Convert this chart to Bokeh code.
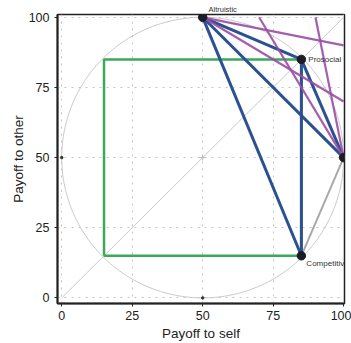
import numpy as np
from bokeh.plotting import figure
from bokeh.models import Range1d, Label, FixedTicker, Title
from bokeh.embed import file_html
from bokeh.resources import INLINE

# Reference points of the SVO ring (payoff to self, payoff to other)
orientation_names = ["Altruistic", "Prosocial", "Individualistic", "Competitive"]
orientation_self = [50, 85, 100, 85]
orientation_other = [100, 85, 50, 15]

# Primary slider items: start/end allocations
primary_self_start = [85, 50, 50, 100, 100]
primary_other_start = [85, 100, 100, 50, 50]
primary_self_end = [85, 85, 85, 50, 85]
primary_other_end = [15, 85, 15, 100, 85]

# Primary item drawn in grey (competitive -> individualistic)
grey_self = [85, 100]
grey_other = [15, 50]

# Secondary slider items
secondary_self_start = [100, 50, 50, 90]
secondary_other_start = [50, 100, 100, 100]
secondary_self_end = [70, 100, 100, 100]
secondary_other_end = [100, 70, 90, 50]

# Square spanned by the prosocial/competitive corners
square_self = [15, 85, 85, 15, 15]
square_other = [15, 15, 85, 85, 15]

ticks = [0, 25, 50, 75, 100]

FONT = "Liberation Sans"
BLUE = "#2c5190"
PURPLE = "#9a4ca5"
GREEN = "#3aa95a"
INK = "#222222"

p = figure(width=351, height=343, output_backend="svg", toolbar_location=None,
           x_range=Range1d(-1.5, 100.3), y_range=Range1d(-2, 101),
           min_border_left=57, min_border_right=7, min_border_top=14,
           min_border_bottom=38)

p.outline_line_color = INK
p.outline_line_width = 1.5
p.background_fill_color = "white"

for ax in (p.xaxis, p.yaxis):
    ax.ticker = FixedTicker(ticks=ticks)
    ax.axis_line_color = INK
    ax.axis_line_width = 2
    ax.major_tick_in = 0
    ax.major_tick_out = 3
    ax.minor_tick_line_color = None
    ax.major_tick_line_color = INK
    ax.major_label_text_font = FONT
    ax.major_label_text_font_size = "12.5px"
    ax.major_label_text_color = INK
    ax.axis_label_text_font = FONT
    ax.axis_label_text_font_size = "13.5px"
    ax.axis_label_text_font_style = "normal"
    ax.axis_label_text_color = INK

p.xaxis.axis_label = "Payoff to self"
p.yaxis.axis_label = "Payoff to other"
p.xaxis.axis_label_standoff = 3
p.yaxis.axis_label_standoff = 0
p.xaxis.major_label_standoff = 4
p.yaxis.major_label_standoff = 5

for g in (p.xgrid, p.ygrid):
    g.ticker = FixedTicker(ticks=ticks)
    g.grid_line_color = "#c4c4c4"
    g.grid_line_dash = "2 5"
    g.grid_line_width = 1

# Ring and diagonal
theta = np.linspace(0, 2 * np.pi, 400)
p.line(50 + 50 * np.cos(theta), 50 + 50 * np.sin(theta), line_color="#c8c8c8", line_width=1)
p.line([0, 100], [0, 100], line_color="#c8c8c8", line_width=1)
p.scatter([0, 50], [50, 0], marker="circle", size=2.5, color="#333333")
p.scatter([50], [50], marker="cross", size=6, line_color="#bbbbbb", line_width=1)

# Square
p.line(square_self, square_other, line_color=GREEN, line_width=2.5)

# Grey item
p.line(grey_self, grey_other, line_color="#a8a8a8", line_width=2)

# Primary items
p.segment(primary_self_start, primary_other_start, primary_self_end, primary_other_end,
          line_color=BLUE, line_width=3)

# Secondary items
p.segment(secondary_self_start, secondary_other_start, secondary_self_end, secondary_other_end,
          line_color=PURPLE, line_width=2.2, line_alpha=0.9)

# Orientation points
p.scatter(orientation_self, orientation_other, marker="circle", size=8.5, color="#1c1c28")

# Labels inside the frame
label_specs = {
    "Prosocial": dict(x_offset=7, y_offset=0, text_align="left", text_baseline="middle"),
    "Individualistic": dict(x_offset=6, y_offset=0, text_align="left", text_baseline="middle"),
    "Competitive": dict(x_offset=5, y_offset=-3, text_align="left", text_baseline="top"),
}
for name, sx, oy in zip(orientation_names, orientation_self, orientation_other):
    if name in label_specs:
        p.add_layout(Label(x=sx, y=oy, text=name, text_font=FONT, text_font_size="8px",
                           text_color="#333333", **label_specs[name]))

# The top point's label sits above the frame, in the top panel
p.add_layout(Title(text=orientation_names[0], align="left", offset=151,
                   text_font=FONT, text_font_size="7.5px", text_font_style="normal",
                   text_color="#333333", standoff=1), "above")

open("out.html", "w").write(file_html(p, INLINE))
